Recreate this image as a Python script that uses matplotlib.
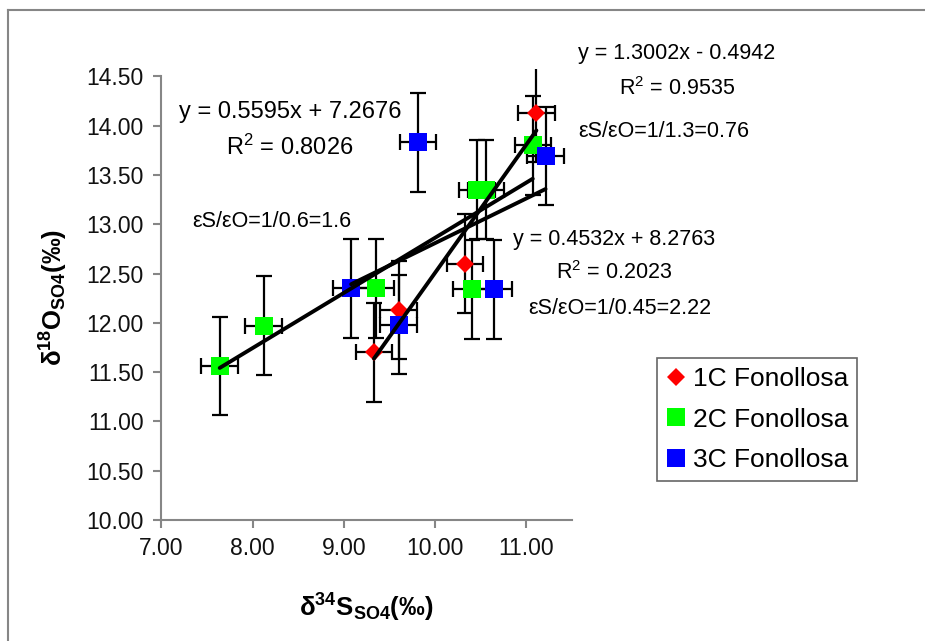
import matplotlib
matplotlib.use('Agg')
import numpy as np
import matplotlib.pyplot as plt
from matplotlib.lines import Line2D

plt.rcParams['font.family'] = ['Liberation Sans', 'DejaVu Sans']
plt.rcParams['mathtext.fontset'] = 'custom'
plt.rcParams['mathtext.rm'] = 'Liberation Sans'
plt.rcParams['mathtext.it'] = 'Liberation Sans'
plt.rcParams['mathtext.bf'] = 'Liberation Sans:bold'

# d34S / d18O of sulphate, three Fonollosa sampling points
s34_1c = [9.33, 9.60, 10.33, 11.11]
o18_1c = [11.70, 12.13, 12.60, 14.13]

s34_2c = [7.64, 8.12, 9.35, 10.40, 10.46, 10.56, 11.07]
o18_2c = [11.56, 11.97, 12.35, 12.34, 13.35, 13.35, 13.80]

s34_3c = [9.08, 9.60, 9.81, 10.64, 11.21]
o18_3c = [12.35, 11.98, 13.83, 12.34, 13.69]

# analytical uncertainty
err_s34 = 0.2
err_o18 = 0.5

# linear trend coefficients (slope, intercept, R2)
fit_1c = (1.3002, -0.4942, 0.9535)
fit_2c = (0.5595, 7.2676, 0.8026)
fit_3c = (0.4532, 8.2763, 0.2023)

series = [
    ('1C Fonollosa', s34_1c, o18_1c, 'D', '#ff0000', 9.5, fit_1c),
    ('2C Fonollosa', s34_2c, o18_2c, 's', '#00ff00', 13, fit_2c),
    ('3C Fonollosa', s34_3c, o18_3c, 's', '#0000ff', 13, fit_3c),
]

W, H = 925, 641
fig = plt.figure(figsize=(W / 100, H / 100), dpi=100)
ax = fig.add_axes([161.3 / W, 1 - 520 / H, (572 - 161.3) / W, (520 - 69.4) / H])

handles = []
for name, xs, ys, mk, col, ms, fit in series:
    ax.errorbar(xs, ys, xerr=err_s34, yerr=err_o18, fmt='none',
                ecolor='black', elinewidth=1.6, capsize=5.5, capthick=1.6,
                zorder=2)
    ax.plot(xs, ys, linestyle='none', marker=mk, markersize=ms,
            color=col, markeredgewidth=0, zorder=3)
    handles.append(Line2D([], [], linestyle='none', marker=mk,
                          markersize=ms, color=col,
                          markeredgewidth=0, label=name))

# trend lines across each series' own range
for name, xs, ys, mk, col, ms, fit in series:
    xx = np.array([min(xs), max(xs)])
    ax.plot(xx, fit[0] * xx + fit[1], color='black', linewidth=2.8,
            solid_capstyle='round', zorder=4)

ax.set_xlim(7, 11.5)
ax.set_ylim(10, 14.57)
ax.set_xticks(np.arange(7, 11.01, 1.0))
ax.set_yticks(np.arange(10, 14.51, 0.5))
ax.xaxis.set_major_formatter(matplotlib.ticker.FormatStrFormatter('%.2f'))
ax.yaxis.set_major_formatter(matplotlib.ticker.FormatStrFormatter('%.2f'))
for side in ['top', 'right']:
    ax.spines[side].set_visible(False)
for side in ['left', 'bottom']:
    ax.spines[side].set_color('#868686')
    ax.spines[side].set_linewidth(1.5)
ax.spines['left'].set_bounds(10, 14.5)
ax.tick_params(axis='both', direction='out', length=5.5, width=1.5,
               color='#868686', labelsize=16.5, labelcolor='#111111', pad=7)

# equations and fractionation ratios
txt = dict(ha='center', va='center', color='black', clip_on=False)
ax.text(8.41, 14.14, 'y = 0.5595x + 7.2676', fontsize=17, **txt)
ax.text(8.41, 13.78, 'R$^2$ = 0.8026', fontsize=17, **txt)
ax.text(8.21, 13.03, 'εS/εO=1/0.6=1.6', fontsize=15.5, **txt)

ax.text(12.65, 14.73, 'y = 1.3002x - 0.4942', fontsize=15.5, **txt)
ax.text(12.65, 14.38, 'R$^2$ = 0.9535', fontsize=15.5, **txt)
ax.text(12.51, 13.94, 'εS/εO=1/1.3=0.76', fontsize=15.5, **txt)

ax.text(11.96, 12.84, 'y = 0.4532x + 8.2763', fontsize=15.5, **txt)
ax.text(11.96, 12.51, 'R$^2$ = 0.2023', fontsize=15.5, **txt)
ax.text(12.02, 12.15, 'εS/εO=1/0.45=2.22', fontsize=15.5, **txt)

fig.text(366 / W, 1 - 608 / H, r'δ$^{\mathbf{34}}$S$_{\mathbf{SO4}}$(‰)',
         fontsize=18.5, fontweight='bold', ha='center', va='center')
fig.text(54 / W, 1 - 297 / H, r'δ$^{\mathbf{18}}$O$_{\mathbf{SO4}}$(‰)',
         fontsize=18.5, fontweight='bold', ha='center', va='center',
         rotation=90)

leg = fig.legend(handles=handles, loc='upper left',
                 bbox_to_anchor=(657 / W, 1 - 358 / H), fontsize=19,
                 frameon=True, fancybox=False, borderpad=0.35,
                 labelspacing=0.62, handlelength=0.75, handletextpad=0.25,
                 borderaxespad=0)
leg.get_frame().set_edgecolor('#404040')
leg.get_frame().set_linewidth(1.2)

# chart border (only the left and top edges fall inside the image)
fig.add_artist(Line2D([8 / W, 8 / W], [0, 1 - 10 / H], color='#868686',
                      linewidth=1.5, transform=fig.transFigure))
fig.add_artist(Line2D([8 / W, 1], [1 - 10 / H, 1 - 10 / H], color='#868686',
                      linewidth=1.5, transform=fig.transFigure))

fig.savefig('out.png', dpi=100)
